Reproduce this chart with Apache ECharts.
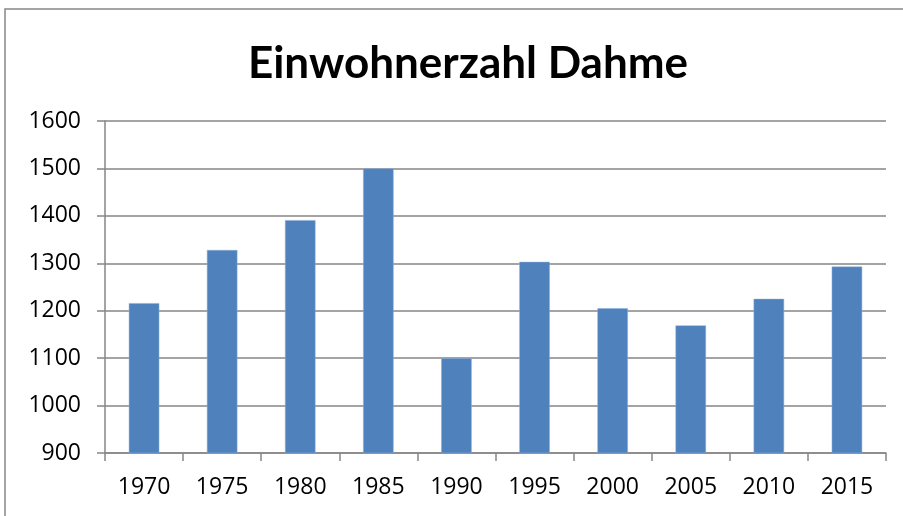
<!DOCTYPE html>
<html>
<head>
<meta charset="utf-8">
<script src="https://cdn.jsdelivr.net/npm/echarts@6/dist/echarts.min.js"></script>
<style>
  html, body { margin: 0; padding: 0; background: #fff; }
  #chart { width: 903px; height: 516px; }
</style>
</head>
<body>
<div id="chart"></div>
<script>
var years = ["1970", "1975", "1980", "1985", "1990", "1995", "2000", "2005", "2010", "2015"];
var einwohner = [1216, 1328, 1391, 1500, 1100, 1303, 1205, 1169, 1225, 1293];

(function dahmeChart() {
  var dom = document.getElementById("chart");
  var myChart = echarts.init(dom, null, { renderer: "canvas" });
  var gray = "#868686";
  var labelFont = "'Open Sans', sans-serif";

  var option = {
    animation: false,
    title: {
      text: "Einwohnerzahl Dahme",
      left: 463,
      top: 37,
      textAlign: "center",
      textStyle: {
        fontFamily: "Lato, sans-serif",
        fontWeight: "bold",
        fontSize: 44,
        color: "#000",
      },
    },
    graphic: [
      {
        type: "rect",
        shape: { x: 5, y: 9, width: 1000, height: 1000 },
        style: { fill: null, stroke: gray, lineWidth: 1.5 },
        silent: true,
      },
    ],
    grid: {
      left: 105,
      right: 17,
      top: 121,
      bottom: 63,
    },
    xAxis: {
      type: "category",
      data: years,
      boundaryGap: true,
      axisLine: { show: true, lineStyle: { color: gray, width: 1.5 } },
      axisTick: { show: true, length: 8, lineStyle: { color: gray, width: 1.5 } },
      axisLabel: {
        margin: 23,
        fontFamily: labelFont,
        fontSize: 23,
        color: "#000",
      },
      splitLine: { show: false },
    },
    yAxis: {
      type: "value",
      min: 900,
      max: 1600,
      interval: 100,
      axisLine: { show: true, lineStyle: { color: gray, width: 1.5 } },
      axisTick: { show: true, length: 8, lineStyle: { color: gray, width: 1.5 } },
      axisLabel: {
        margin: 24,
        fontFamily: labelFont,
        fontSize: 23,
        color: "#000",
        formatter: function (v) { return String(v); },
      },
      splitLine: { show: true, lineStyle: { color: gray, width: 1.5 } },
    },
    series: [
      {
        type: "bar",
        data: einwohner,
        barWidth: "39%",
        itemStyle: {
          color: "#4F81BD",
          borderColor: "#8CAEDB",
          borderWidth: 0.5,
        },
      },
    ],
  };

  option && myChart.setOption(option);
})();
</script>
</body>
</html>
